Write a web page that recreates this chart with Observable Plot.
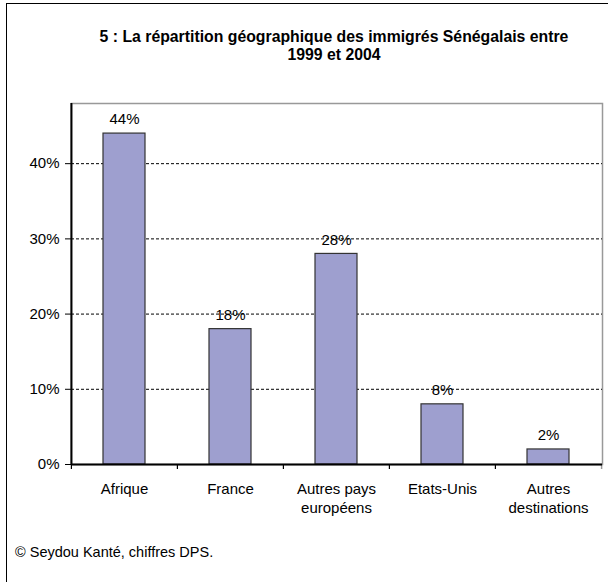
<!DOCTYPE html>
<html>
<head>
<meta charset="utf-8">
<script src="https://cdn.jsdelivr.net/npm/d3@7"></script>
<script src="https://cdn.jsdelivr.net/npm/@observablehq/plot@0.6"></script>
<style>
  html, body { margin: 0; padding: 0; background: #fff; }
  body { width: 608px; height: 582px; overflow: hidden; position: relative; font-family: "Liberation Sans", Arial, sans-serif; }
  #box { position: absolute; left: 6px; top: 3px; width: 640px; height: 640px; border: 1.5px solid #000; box-sizing: border-box; }
  #title { position: absolute; left: 34px; width: 600px; top: 28px; text-align: center; font-weight: bold; font-size: 15.8px; line-height: 17.5px; color: #000; }
  #chart { position: absolute; left: 0; top: 80px; }
  #caption { position: absolute; left: 15px; top: 544px; font-size: 14.5px; color: #000; }
</style>
</head>
<body>
<div id="box"></div>
<div id="title">5 : La répartition géographique des immigrés Sénégalais entre<br>1999 et 2004</div>
<div id="chart"></div>
<div id="caption">© Seydou Kanté, chiffres DPS.</div>
<script>
const categories = ["Afrique", "France", "Autres pays\neuropéens", "Etats-Unis", "Autres\ndestinations"];
const values = [0.44, 0.18, 0.28, 0.08, 0.02];
const yTicks = [0, 0.1, 0.2, 0.3, 0.4];
const gridTicks = [0.1, 0.2, 0.3, 0.4];

const data = categories.map((c, i) => ({cat: c, v: values[i]}));

const W = 608, H = 450, mL = 71, mR = 6, mT = 23, mB = 66;
const step = (W - mL - mR) / categories.length;
const plotH = H - mT - mB;
const FS = 15;

const chart = Plot.plot({
  width: W, height: H,
  marginLeft: mL, marginRight: mR, marginTop: mT, marginBottom: mB,
  style: {fontFamily: "'Liberation Sans', Arial, sans-serif", fontSize: FS + "px", color: "#000", background: "transparent"},
  x: {domain: categories, paddingInner: 0.6, paddingOuter: 0.3, axis: null, label: null},
  y: {domain: [0, 0.48], axis: null, label: null},
  marks: [
    Plot.frame({stroke: "#999", strokeWidth: 1.5}),
    Plot.ruleY(gridTicks, {stroke: "#000", strokeDasharray: "3,2", strokeWidth: 1}),
    Plot.barY(data, {x: "cat", y: "v", fill: "#9e9fcf", stroke: "#333", strokeWidth: 1.2}),
    Plot.text(data, {x: "cat", y: "v", text: d => d3.format(".0%")(d.v), dy: -14, lineAnchor: "middle", fill: "#000", fontSize: FS}),
    // x boundary ticks
    Plot.ruleX(categories, {x: d => d, dx: -step / 2, stroke: "#000", strokeWidth: 1.2, insetTop: plotH, insetBottom: -5}),
    Plot.ruleX([categories[categories.length - 1]], {x: d => d, dx: step / 2, stroke: "#999", strokeWidth: 1.5, insetTop: plotH, insetBottom: -5}),
    // left axis line
    Plot.ruleX([categories[0]], {x: d => d, dx: -step / 2, stroke: "#000", strokeWidth: 2, insetBottom: -1}),
    // bottom axis line
    Plot.ruleY([0], {stroke: "#000", strokeWidth: 2}),
    Plot.axisY(yTicks, {tickFormat: d3.format(".0%"), tickSize: 6, tickPadding: 6, fontSize: FS, stroke: "#000", fill: "#000", label: null}),
    Plot.text(categories, {x: d => d, frameAnchor: "bottom", dy: 16, lineAnchor: "top", lineHeight: 1.27, fontSize: FS, fill: "#000"})
  ]
});
document.getElementById("chart").appendChild(chart);
</script>
</body>
</html>
